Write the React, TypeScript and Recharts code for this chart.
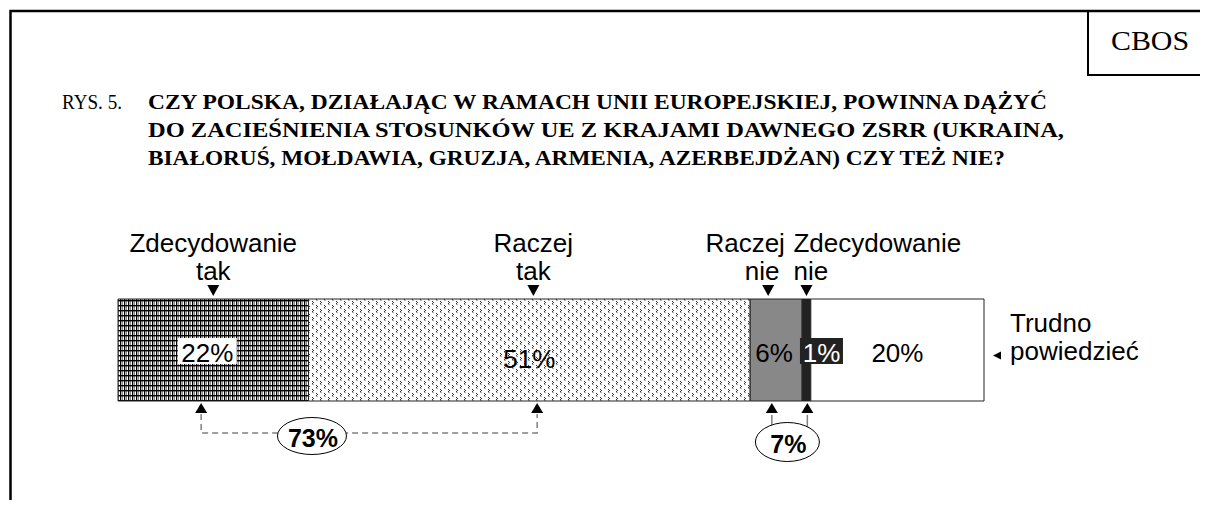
import { BarChart, Bar, XAxis, YAxis, LabelList, ReferenceLine } from 'recharts';

// answers, left to right along the bar
const categories = ['Zdecydowanie tak', 'Raczej tak', 'Raczej nie', 'Zdecydowanie nie', 'Trudno powiedzieć'];
const seriesKeys = ['zt', 'rt', 'rn', 'zn', 'tp'];
const values = [22, 51, 6, 1, 20];
const headLines = [['Zdecydowanie', 'tak'], ['Raczej', 'tak'], ['Raczej', 'nie'], ['Zdecydowanie', 'nie'], ['Trudno', 'powiedzieć']];

// summed groups under the bar (positions in % along the axis)
const groupLabels = ['73%', '7%'];
const groupFrom = [9.6, 75.5];
const groupTo = [48.4, 79.6];
const groupAt = [22.4, 77.3];

const titleNo = 'RYS. 5.';
const titleLines = [
  'CZY POLSKA, DZIAŁAJĄC W RAMACH UNII EUROPEJSKIEJ, POWINNA DĄŻYĆ',
  'DO ZACIEŚNIENIA STOSUNKÓW UE Z KRAJAMI DAWNEGO ZSRR (UKRAINA,',
  'BIAŁORUŚ, MOŁDAWIA, GRUZJA, ARMENIA, AZERBEJDŻAN) CZY TEŻ NIE?',
];
const source = 'CBOS';

const row: Record<string, string | number> = { row: 'all' };
seriesKeys.forEach((k, i) => { row[k] = values[i]; });
const data = [row];

const W = 1208;
const H = 508;
const BAR = 102;
const SANS = '"Liberation Sans", Arial, sans-serif';
const SERIF = '"Liberation Serif", "Times New Roman", serif';

const fills = ['url(#pGrid)', 'url(#pDots)', '#888888', '#222222', '#ffffff'];
const arrowDx = [0, 4, -8, 0];
const headAnchor = ['middle', 'middle', 'middle', 'start'];
const headDx = [[0, 0], [0, 0], [-23, -6], [-13, -13]];
const valueDx = [-6, 0, -2, 15, 0];
const valueDy = [12, 18, 12, 12, 12];
const valueBox = ['#ffffff', null, null, '#222222', null];
const valueColor = ['#000', '#000', '#000', '#fff', '#000'];
const groupDashed = [true, false];
const groupRx = [34.5, 32];
const groupRy = [18.5, 19.5];
const groupDy = [35, 41];

function box(p: any) {
  const vb = p.viewBox && p.viewBox.width !== undefined ? p.viewBox : p;
  return { x: Number(vb.x), y: Number(vb.y), w: Number(vb.width), h: Number(vb.height) };
}

const makeHead = (i: number) => (p: any) => {
  const { x, y, w, h } = box(p);
  if (i === 4) {
    const ex = x + w;
    const cy = y + h / 2;
    return (
      <g>
        <path d={`M${ex + 9},${cy + 5.5} L${ex + 17},${cy + 1.5} L${ex + 17},${cy + 9.5} Z`} fill="#000" />
        {headLines[i].map((t, k) => (
          <text key={k} x={ex + 26} y={cy - 18 + k * 28} fontFamily={SANS} fontSize={26} fill="#000">{t}</text>
        ))}
      </g>
    );
  }
  const ax = x + w / 2 + arrowDx[i];
  return (
    <g>
      {headLines[i].map((t, k) => (
        <text key={k} x={ax + headDx[i][k]} y={y - 47 + k * 28} textAnchor={headAnchor[i] as any}
          fontFamily={SANS} fontSize={26} fill="#000">{t}</text>
      ))}
      <path d={`M${ax - 6},${y - 14} L${ax + 6},${y - 14} L${ax},${y - 3} Z`} fill="#000" />
    </g>
  );
};

const makeValue = (i: number) => (p: any) => {
  const { x, y, w, h } = box(p);
  const cx = x + w / 2 + valueDx[i];
  const cy = y + h / 2;
  const txt = `${values[i]}%`;
  const bw = txt.length * 16 + 11;
  return (
    <g>
      {valueBox[i] && <rect x={cx - bw / 2} y={cy - 12} width={bw} height={26} fill={valueBox[i] as string} />}
      <text x={cx} y={cy + valueDy[i]} textAnchor="middle" fontFamily={SANS} fontSize={26} fill={valueColor[i]}>{txt}</text>
    </g>
  );
};

const makeBracket = (g: number) => (p: any) => {
  const x1 = Number(p.x1);
  const x2 = Number(p.x2);
  const bottom = Number(p.y1) + BAR / 2;
  const ex = x1 + ((x2 - x1) * (groupAt[g] - groupFrom[g])) / (groupTo[g] - groupFrom[g]);
  const ey = bottom + groupDy[g];
  const tri = (ax: number) => `M${ax - 6},${bottom + 12} L${ax + 6},${bottom + 12} L${ax},${bottom + 2} Z`;
  return (
    <g>
      <path d={tri(x1)} fill="#000" />
      <path d={tri(x2)} fill="#000" />
      {groupDashed[g] ? (
        <path d={`M${x1},${bottom + 13} V${bottom + 32} H${x2} V${bottom + 13}`} fill="none" stroke="#808080"
          strokeWidth={1.5} strokeDasharray="6 4" />
      ) : (
        <path d={`M${x1},${bottom + 14} V${bottom + 26} M${x2},${bottom + 14} V${bottom + 26}`} stroke="#808080" strokeWidth={1.5} />
      )}
      <ellipse cx={ex} cy={ey} rx={groupRx[g]} ry={groupRy[g]} fill="#fff" stroke="#000" strokeWidth={1} />
      <text x={ex + 1} y={ey + 11} textAnchor="middle" fontFamily={SANS} fontWeight="bold" fontSize={25} fill="#000">
        {groupLabels[g]}
      </text>
    </g>
  );
};

export default function App() {
  return (
    <div style={{ position: 'relative', width: W, height: H, margin: -8, background: '#fff' }}>
      <svg width={W} height={H} style={{ position: 'absolute', left: 0, top: 0 }}>
        <path d={`M10.5,${H} V11 H${W}`} fill="none" stroke="#000" strokeWidth={2.5} />
        <path d={`M1088,11 V75 H${W}`} fill="none" stroke="#000" strokeWidth={2} />
        <text x={1150} y={50} textAnchor="middle" fontFamily={SERIF} fontSize={28} textLength={78}
          lengthAdjust="spacingAndGlyphs">{source}</text>
        <text x={62} y={109} fontFamily={SERIF} fontSize={20} textLength={60} lengthAdjust="spacingAndGlyphs">{titleNo}</text>
        {titleLines.map((t, k) => (
          <text key={k} x={148} y={109 + k * 28} fontFamily={SERIF} fontWeight="bold" fontSize={21}
            textLength={[899, 916, 857][k]} lengthAdjust="spacingAndGlyphs">{t}</text>
        ))}
      </svg>
      <div style={{ position: 'absolute', left: 0, top: 0 }}>
        <BarChart width={W} height={H} data={data} layout="vertical" barCategoryGap={0}
          margin={{ top: 299, right: 224, bottom: 107, left: 118 }}>
          <defs>
            <pattern id="pGrid" width={4} height={5} patternUnits="userSpaceOnUse">
              <rect width={4} height={5} fill="#fff" />
              <rect x={0} y={0} width={1.3} height={5} fill="#000" />
              <rect x={2} y={0} width={1} height={5} fill="#8a8a8a" />
              <rect x={0} y={0} width={4} height={1.4} fill="#000" />
            </pattern>
            <pattern id="pDots" width={8} height={8} patternUnits="userSpaceOnUse">
              <rect width={8} height={8} fill="#fff" />
              <rect x={0} y={0} width={2} height={1} fill="#aaa" />
              <rect x={4} y={1} width={1} height={1} fill="#333" />
              <rect x={5} y={2} width={1} height={1} fill="#333" />
              <rect x={4} y={3} width={1} height={1} fill="#333" />
              <rect x={4} y={4} width={2} height={1} fill="#aaa" />
              <rect x={0} y={5} width={1} height={1} fill="#333" />
              <rect x={1} y={6} width={1} height={1} fill="#333" />
              <rect x={0} y={7} width={1} height={1} fill="#333" />
            </pattern>
          </defs>
          <XAxis type="number" domain={[0, 100]} hide />
          <YAxis type="category" dataKey="row" hide />
          {seriesKeys.map((k, i) => (
            <Bar key={k} dataKey={k} name={categories[i]} stackId="s" fill={fills[i]} stroke="#222" strokeWidth={1}
              isAnimationActive={false}>
              <LabelList dataKey={k} content={makeValue(i)} />
              <LabelList dataKey={k} content={makeHead(i)} />
            </Bar>
          ))}
          {groupLabels.map((l, g) => (
            <ReferenceLine key={l} segment={[{ x: groupFrom[g], y: 'all' }, { x: groupTo[g], y: 'all' }]}
              shape={makeBracket(g)} />
          ))}
        </BarChart>
      </div>
    </div>
  );
}
